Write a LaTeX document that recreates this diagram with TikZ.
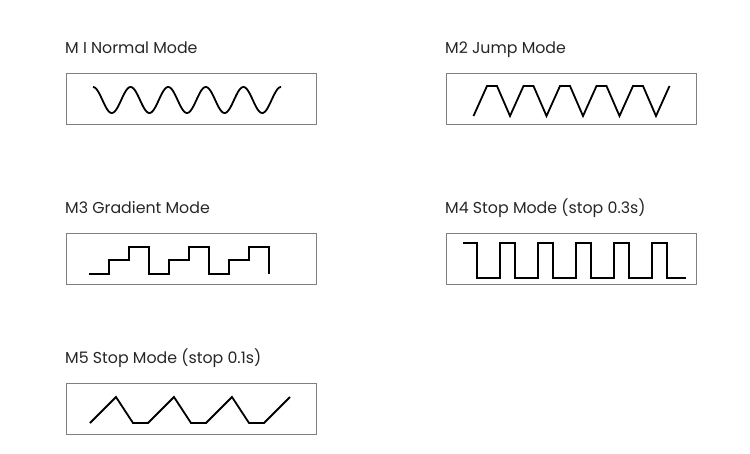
\documentclass[tikz,border=0pt]{standalone}
\usepackage{fontspec}
\setmainfont{Poppins}
\usepackage{tikz}

\begin{document}
\begin{tikzpicture}[x=1pt, y=-1pt,
        modebox/.style={draw=black!50, line width=0.8pt, minimum width=250pt, minimum height=51pt, inner sep=0pt},
        modelabel/.style={anchor=base west, inner sep=0pt, text=black!85, font=\fontsize{15.8}{18}\selectfont},
        wave/.style={black, line width=1.8pt}]
    \useasboundingbox (0,0) rectangle (750,453);
    %% the five boxes and their titles
    \node [modebox] (normal) at (191,98.5) {};
    \node [modebox] (jump) at (571,98.5) {};
    \node [modebox] (gradient) at (191,259) {};
    \node [modebox] (stopthree) at (571,259) {};
    \node [modebox] (stopone) at (191,409) {};
    \node [modelabel] (normaltitle) at (65,53) {M I Normal Mode};
    \node [modelabel] (jumptitle) at (445,53) {M2 Jump Mode};
    \node [modelabel] (gradienttitle) at (65,213) {M3 Gradient Mode};
    \node [modelabel] (stopthreetitle) at (445,213) {M4 Stop Mode (stop 0.3s)};
    \node [modelabel] (stoponetitle) at (65,363) {M5 Stop Mode (stop 0.1s)};
    %% waves
    \draw [wave] plot[domain=93:281, samples=200, smooth] (\x, {100-13*cos((\x-93)/188*1800)});
    \draw [wave] (473.5,116) \foreach \k in {0,...,4} { -- ++(13.5,-30) -- ++(10,0) -- ++(13,30) } -- ++(13.5,-30);
    \draw [wave] (89,274) \foreach \k in {1,2,3} { -- ++(20,0) -- ++(0,-14) -- ++(20,0) -- ++(0,-13) -- ++(20,0) -- ++(0,27) };
    \draw [wave] (463,243) -- (477,243) \foreach \k in {1,...,5} { -- ++(0,35) -- ++(23,0) -- ++(0,-35) -- ++(15,0) } -- ++(0,35) -- (686,278);
    \draw [wave] (90,423) \foreach \k in {1,2,3} { -- ++(26,-26) -- ++(17,26) -- ++(15,0) } -- ++(26,-26);
\end{tikzpicture}
\end{document}
